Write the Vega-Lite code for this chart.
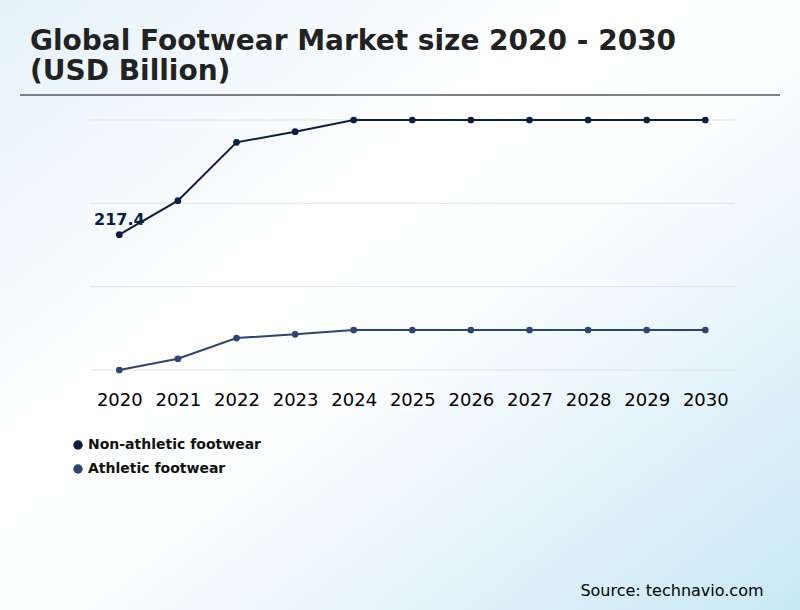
{
  "$schema": "https://vega.github.io/schema/vega-lite/v6.json",
  "width": 800,
  "height": 610,
  "autosize": {"type": "none"},
  "padding": 0,
  "background": "#ffffff",
  "title": {
    "text": ["Global Footwear Market size 2020 - 2030", "(USD Billion)"],
    "anchor": "start",
    "frame": "group",
    "orient": "top",
    "offset": -86,
    "dx": 30,
    "font": "DejaVu Sans",
    "fontSize": 28,
    "fontWeight": "bold",
    "color": "#222222",
    "lineHeight": 30
  },
  "config": {
    "font": "DejaVu Sans",
    "view": {
      "stroke": null,
      "fill": {
        "gradient": "linear",
        "x1": 0, "y1": 0, "x2": 1, "y2": 1,
        "stops": [
          {"offset": 0, "color": "#e4f2f9"},
          {"offset": 0.38, "color": "#ffffff"},
          {"offset": 0.55, "color": "#fbfdfe"},
          {"offset": 1, "color": "#c8e8f6"}
        ]
      }
    },
    "axisX": {
      "orient": "bottom", "offset": -240,
      "grid": false, "domain": false, "ticks": false, "tickSize": 0,
      "labelPadding": 21, "labelFontSize": 18, "labelColor": "#000000", "labelFont": "DejaVu Sans",
      "labelFlush": false, "labelOverlap": false,
      "titleX": 763, "titleY": 225,
      "titleAlign": "right", "titleBaseline": "alphabetic", "titleFontSize": 16,
      "titleFontWeight": "normal", "titleColor": "#000000", "titleFont": "DejaVu Sans"
    },
    "axisY": {"disable": true}
  },
  "datasets": {
    "market": [
      {"year": 2020, "series": "Non-athletic footwear", "value": 217.4},
      {"year": 2021, "series": "Non-athletic footwear", "value": 241.9},
      {"year": 2022, "series": "Non-athletic footwear", "value": 283.9},
      {"year": 2023, "series": "Non-athletic footwear", "value": 291.6},
      {"year": 2024, "series": "Non-athletic footwear", "value": 300},
      {"year": 2025, "series": "Non-athletic footwear", "value": 300},
      {"year": 2026, "series": "Non-athletic footwear", "value": 300},
      {"year": 2027, "series": "Non-athletic footwear", "value": 300},
      {"year": 2028, "series": "Non-athletic footwear", "value": 300},
      {"year": 2029, "series": "Non-athletic footwear", "value": 300},
      {"year": 2030, "series": "Non-athletic footwear", "value": 300},
      {"year": 2020, "series": "Athletic footwear", "value": 120},
      {"year": 2021, "series": "Athletic footwear", "value": 128.1},
      {"year": 2022, "series": "Athletic footwear", "value": 143.0},
      {"year": 2023, "series": "Athletic footwear", "value": 145.7},
      {"year": 2024, "series": "Athletic footwear", "value": 148.8},
      {"year": 2025, "series": "Athletic footwear", "value": 148.8},
      {"year": 2026, "series": "Athletic footwear", "value": 148.8},
      {"year": 2027, "series": "Athletic footwear", "value": 148.8},
      {"year": 2028, "series": "Athletic footwear", "value": 148.8},
      {"year": 2029, "series": "Athletic footwear", "value": 148.8},
      {"year": 2030, "series": "Athletic footwear", "value": 148.8}
    ],
    "grid": [{"v": 120}, {"v": 180}, {"v": 240}, {"v": 300}]
  },
  "layer": [
    {
      "data": {"name": "grid"},
      "mark": {"type": "rule", "color": "#e3e3e3", "strokeWidth": 1},
      "encoding": {
        "x": {"datum": 2019.5, "type": "quantitative", "scale": {"domain": [2017.964, 2031.616], "nice": false, "zero": false},
              "axis": {"values": [2020, 2021, 2022, 2023, 2024, 2025, 2026, 2027, 2028, 2029, 2030], "format": "d", "title": "Source: technavio.com"}},
        "x2": {"datum": 2030.5},
        "y": {"field": "v", "type": "quantitative", "scale": {"domain": [-52.8, 386.4], "nice": false, "zero": false}, "title": null}
      }
    },
    {
      "data": {"values": [{}]},
      "mark": {"type": "rule", "color": "#7f7f7f", "strokeWidth": 2},
      "encoding": {
        "x": {"datum": 2018.305, "type": "quantitative",
              "axis": {"values": [2020, 2021, 2022, 2023, 2024, 2025, 2026, 2027, 2028, 2029, 2030], "format": "d", "title": "Source: technavio.com"}},
        "x2": {"datum": 2031.275},
        "y": {"datum": 318, "type": "quantitative", "title": null}
      }
    },
    {
      "data": {"name": "market"},
      "transform": [{"filter": "datum.series == 'Non-athletic footwear'"}],
      "mark": {"type": "line", "strokeWidth": 2, "color": "#0c1d45"},
      "encoding": {
        "x": {"field": "year", "type": "quantitative",
              "axis": {"values": [2020, 2021, 2022, 2023, 2024, 2025, 2026, 2027, 2028, 2029, 2030], "format": "d", "title": "Source: technavio.com"}},
        "y": {"field": "value", "type": "quantitative", "title": null}
      }
    },
    {
      "data": {"name": "market"},
      "transform": [{"filter": "datum.series == 'Athletic footwear'"}],
      "mark": {"type": "line", "strokeWidth": 2, "color": "#2d4476"},
      "encoding": {
        "x": {"field": "year", "type": "quantitative",
              "axis": {"values": [2020, 2021, 2022, 2023, 2024, 2025, 2026, 2027, 2028, 2029, 2030], "format": "d", "title": "Source: technavio.com"}},
        "y": {"field": "value", "type": "quantitative", "title": null}
      }
    },
    {
      "data": {"name": "market"},
      "mark": {"type": "point", "filled": true, "size": 45, "opacity": 1},
      "encoding": {
        "x": {"field": "year", "type": "quantitative",
              "axis": {"values": [2020, 2021, 2022, 2023, 2024, 2025, 2026, 2027, 2028, 2029, 2030], "format": "d", "title": "Source: technavio.com"}},
        "y": {"field": "value", "type": "quantitative", "title": null},
        "color": {
          "field": "series", "type": "nominal",
          "scale": {"domain": ["Non-athletic footwear", "Athletic footwear"], "range": ["#0c1d45", "#2d4476"]},
          "legend": {
            "orient": "none", "legendX": 71, "legendY": 438, "title": null, "padding": 0,
            "symbolType": "circle", "symbolSize": 90, "symbolStrokeWidth": 0, "symbolOpacity": 1,
            "labelFontSize": 14, "labelFontWeight": "bold", "labelColor": "#111111", "labelFont": "DejaVu Sans",
            "labelLimit": 0, "rowPadding": 10, "labelOffset": 3
          }
        }
      }
    },
    {
      "data": {"name": "market"},
      "transform": [{"filter": "datum.year == 2020 && datum.series == 'Non-athletic footwear'"}],
      "mark": {"type": "text", "fontSize": 16, "fontWeight": "bold", "color": "#0c1d45", "align": "center", "baseline": "alphabetic", "dy": -10},
      "encoding": {
        "x": {"field": "year", "type": "quantitative",
              "axis": {"values": [2020, 2021, 2022, 2023, 2024, 2025, 2026, 2027, 2028, 2029, 2030], "format": "d", "title": "Source: technavio.com"}},
        "y": {"field": "value", "type": "quantitative", "title": null},
        "text": {"field": "value", "type": "quantitative", "format": ".1f"}
      }
    }
  ]
}
